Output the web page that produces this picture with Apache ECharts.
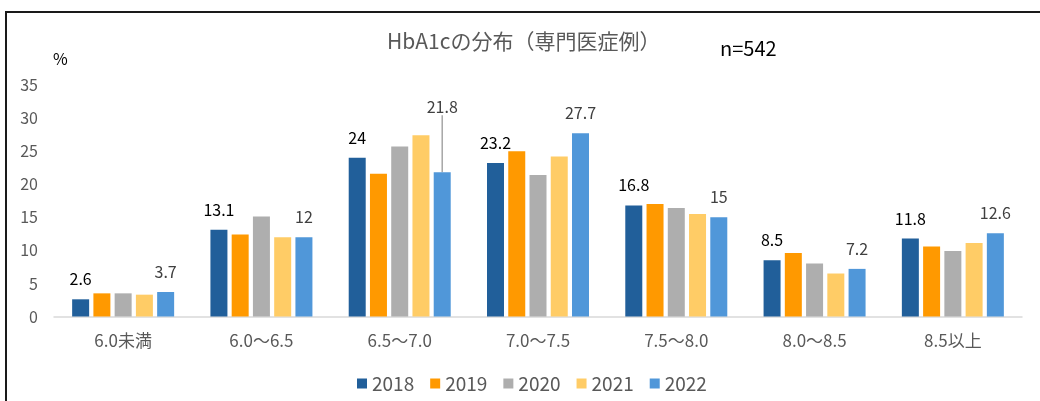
<!DOCTYPE html>
<html>
<head>
<meta charset="UTF-8">
<title>HbA1cの分布</title>
<script src="https://cdn.jsdelivr.net/npm/echarts@6/dist/echarts.min.js"></script>
<style>
  html, body { margin: 0; padding: 0; background: #fff; }
  #wrap { position: relative; width: 1040px; height: 401px; overflow: hidden; }
  #frame { position: absolute; left: 5px; top: 11px; width: 1100px; height: 500px; border: 2px solid #1a1a1a; box-sizing: border-box; }
  #main { position: absolute; left: 0; top: 0; width: 1040px; height: 401px; }
</style>
</head>
<body>
<div id="wrap">
  <div id="frame"></div>
  <div id="main"></div>
</div>
<script>
// data
var categories = ['6.0未満', '6.0～6.5', '6.5～7.0', '7.0～7.5', '7.5～8.0', '8.0～8.5', '8.5以上'];
var years = ['2018', '2019', '2020', '2021', '2022'];
var v2018 = [2.6, 13.1, 24, 23.2, 16.8, 8.5, 11.8];
var v2019 = [3.5, 12.4, 21.6, 25.0, 17.0, 9.6, 10.6];
var v2020 = [3.5, 15.1, 25.7, 21.4, 16.4, 8.0, 9.9];
var v2021 = [3.3, 12.0, 27.4, 24.2, 15.5, 6.5, 11.1];
var v2022 = [3.7, 12, 21.8, 27.7, 15, 7.2, 12.6];
var colors = ['#215F9A', '#FF9900', '#AEAEAE', '#FFCC66', '#5097D9'];

var FONT = '"Noto Sans CJK JP", "Noto Sans", sans-serif';
var chart = echarts.init(document.getElementById('main'));

function barSeries(name, data, labelOpt) {
    var s = {
        name: name,
        type: 'bar',
        data: data,
        barWidth: 17,
        barGap: '25%',
        label: { show: false }
    };
    if (labelOpt) {
        s.label = {
            show: true,
            position: 'top',
            distance: 12,
            fontFamily: FONT,
            fontSize: 16,
            color: labelOpt
        };
    }
    return s;
}

var s2022 = barSeries('2022', v2022, '#404040');
// the 21.8 label is lifted above the bars with a leader line
s2022.labelLayout = function (p) {
    if (p.dataIndex === 2) return { dy: -45 };
    return {};
};
s2022.labelLine = { show: false, lineStyle: { color: '#A6A6A6', width: 1.5 } };
s2022.data = v2022.map(function (v, i) {
    if (i === 2) return { value: v, labelLine: { show: true } };
    return v;
});

var option = {
    animation: false,
    color: colors,
    title: [
        { text: 'HbA1cの分布（専門医症例）', left: 387, top: 31, padding: 0,
          textStyle: { fontFamily: FONT, fontSize: 21, fontWeight: 'normal', color: '#595959' } },
        { text: 'n=542', left: 720, top: 38, padding: 0,
          textStyle: { fontFamily: FONT, fontSize: 20, fontWeight: 'normal', color: '#000' } },
        { text: '%', left: 53, top: 51, padding: 0,
          textStyle: { fontFamily: FONT, fontSize: 16, fontWeight: 'normal', color: '#000' } }
    ],
    legend: {
        data: years,
        left: 357,
        top: 374,
        padding: 0,
        itemWidth: 10,
        itemHeight: 10,
        itemGap: 16,
        icon: 'rect',
        textStyle: { fontFamily: FONT, fontSize: 19, color: '#595959' }
    },
    grid: { left: 54, right: 18, top: 85, bottom: 84.5, containLabel: false },
    xAxis: {
        type: 'category',
        data: categories,
        axisTick: { show: false },
        axisLine: { lineStyle: { color: '#D9D9D9', width: 1.5 } },
        axisLabel: { margin: 16, fontFamily: FONT, fontSize: 17, color: '#595959', interval: 0 }
    },
    yAxis: {
        type: 'value',
        min: 0,
        max: 35,
        interval: 5,
        splitLine: { show: false },
        axisLine: { show: false },
        axisTick: { show: false },
        axisLabel: { margin: 16, fontFamily: FONT, fontSize: 16, color: '#595959' }
    },
    series: [
        barSeries('2018', v2018, '#000'),
        barSeries('2019', v2019),
        barSeries('2020', v2020),
        barSeries('2021', v2021),
        s2022
    ]
};
chart.setOption(option);
</script>
</body>
</html>
